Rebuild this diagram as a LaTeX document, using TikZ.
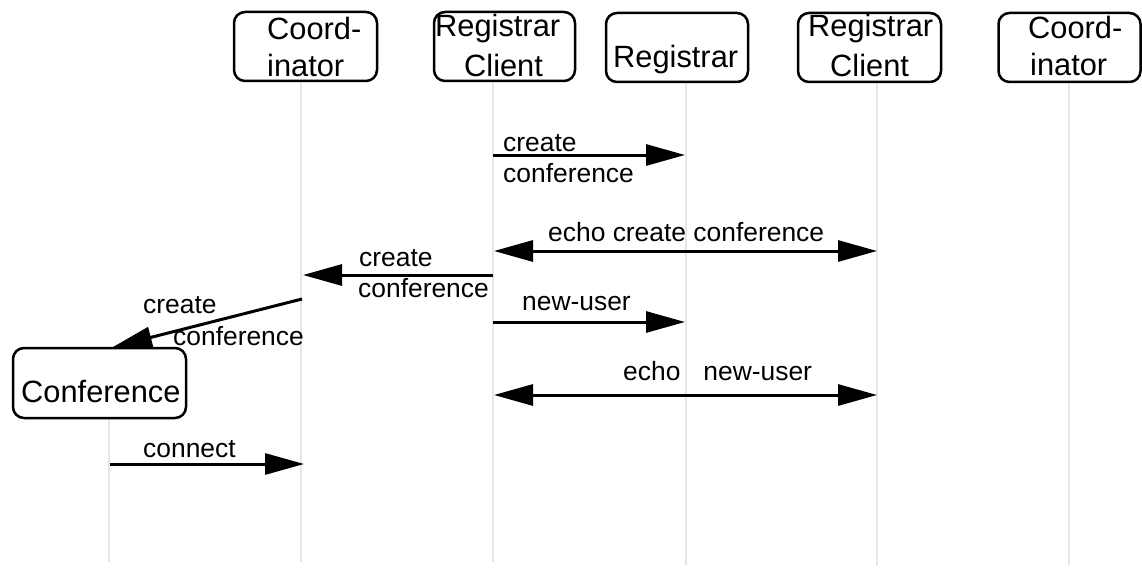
\documentclass[tikz,border=0pt]{standalone}
\usepackage{fontspec}
\setmainfont{Liberation Sans}
\usetikzlibrary{arrows.meta}
\definecolor{lifegray}{HTML}{E6E6E6}
\begin{document}
\begin{tikzpicture}[x=1pt,y=-1pt,
  actor/.style={draw=black, line width=2.5pt, rounded corners=11pt, inner sep=0pt, fill=white},
  boxtext/.style={inner sep=0pt, anchor=base west, font=\fontsize{30.8}{37}\selectfont},
  msgtext/.style={inner sep=0pt, anchor=base west, font=\fontsize{26.4}{31}\selectfont},
  lifeline/.style={draw=lifegray, line width=2.6pt},
  tip/.tip={Triangle[length=39pt,width=21pt]},
  msg/.style={line width=3pt, -tip},
  msgboth/.style={line width=3pt, tip-tip},
]
\useasboundingbox (0,0) rectangle (1142,567);

% lifeline end points
\coordinate (lA1) at (301,82);  \coordinate (lA2) at (301,562);
\coordinate (lB1) at (493,82);  \coordinate (lB2) at (493,562);
\coordinate (lC1) at (686,83);  \coordinate (lC2) at (686,565);
\coordinate (lD1) at (877,83);  \coordinate (lD2) at (877,566);
\coordinate (lE1) at (1069,83); \coordinate (lE2) at (1069,565);
\coordinate (lF1) at (109,419); \coordinate (lF2) at (109,562);

\draw[lifeline] (lA1) -- (lA2);
\draw[lifeline] (lB1) -- (lB2);
\draw[lifeline] (lC1) -- (lC2);
\draw[lifeline] (lD1) -- (lD2);
\draw[lifeline] (lE1) -- (lE2);
\draw[lifeline] (lF1) -- (lF2);

% participant boxes
\node[actor, minimum width=143pt, minimum height=69pt] (coordA) at (305.5,46.5) {};
\node[actor, minimum width=141pt, minimum height=69pt] (clientA) at (504.5,46.5) {};
\node[actor, minimum width=142pt, minimum height=69pt] (registrar) at (677,47.5) {};
\node[actor, minimum width=143pt, minimum height=69pt] (clientB) at (869.5,47.5) {};
\node[actor, minimum width=142pt, minimum height=69pt] (coordB) at (1069.5,47.5) {};
\node[actor, minimum width=173pt, minimum height=70pt] (conf) at (99.5,383) {};

% participant names
\node[boxtext] (coordAt1) at (267,40) {Coord-};
\node[boxtext] (coordAt2) at (267,77) {inator};
\node[boxtext] (clientAt1) at (435,37) {Registrar};
\node[boxtext] (clientAt2) at (464,77) {Client};
\node[boxtext] (registrart) at (613,68) {Registrar};
\node[boxtext] (clientBt1) at (808,37) {Registrar};
\node[boxtext] (clientBt2) at (830,77) {Client};
\node[boxtext] (coordBt1) at (1028,39) {Coord-};
\node[boxtext] (coordBt2) at (1030,76) {inator};
\node[boxtext] (conft) at (21,402) {Conference};

% message end points
\coordinate (m1a) at (493,155);  \coordinate (m1b) at (685,155);
\coordinate (m2a) at (494,251);  \coordinate (m2b) at (877,251);
\coordinate (m3a) at (493,275);  \coordinate (m3b) at (303,275);
\coordinate (m4a) at (302,299);  \coordinate (m4b) at (113,347);
\coordinate (m5a) at (493,322);  \coordinate (m5b) at (685,322);
\coordinate (m6a) at (494,395);  \coordinate (m6b) at (877,395);
\coordinate (m7a) at (110,464);  \coordinate (m7b) at (304,464);

% messages
\draw[msg] (m1a) -- (m1b);
\draw[msgboth] (m2a) -- (m2b);
\draw[msg] (m3a) -- (m3b);
\draw[msg] (m4a) -- (m4b);
\draw[msg] (m5a) -- (m5b);
\draw[msgboth] (m6a) -- (m6b);
\draw[msg] (m7a) -- (m7b);

% message labels
\node[msgtext] (l1a) at (503,151) {create};
\node[msgtext] (l1b) at (503,182) {conference};
\node[msgtext] (l2) at (548,241) {echo create conference};
\node[msgtext] (l3a) at (359,266) {create};
\node[msgtext] (l3b) at (358,297) {conference};
\node[msgtext] (l4a) at (143,313) {create};
\node[msgtext] (l4b) at (173,345) {conference};
\node[msgtext] (l5) at (522,310) {new-user};
\node[msgtext] (l6) at (623,380) {echo\hspace*{23pt}new-user};
\node[msgtext] (l7) at (143,457) {connect};
\end{tikzpicture}
\end{document}
